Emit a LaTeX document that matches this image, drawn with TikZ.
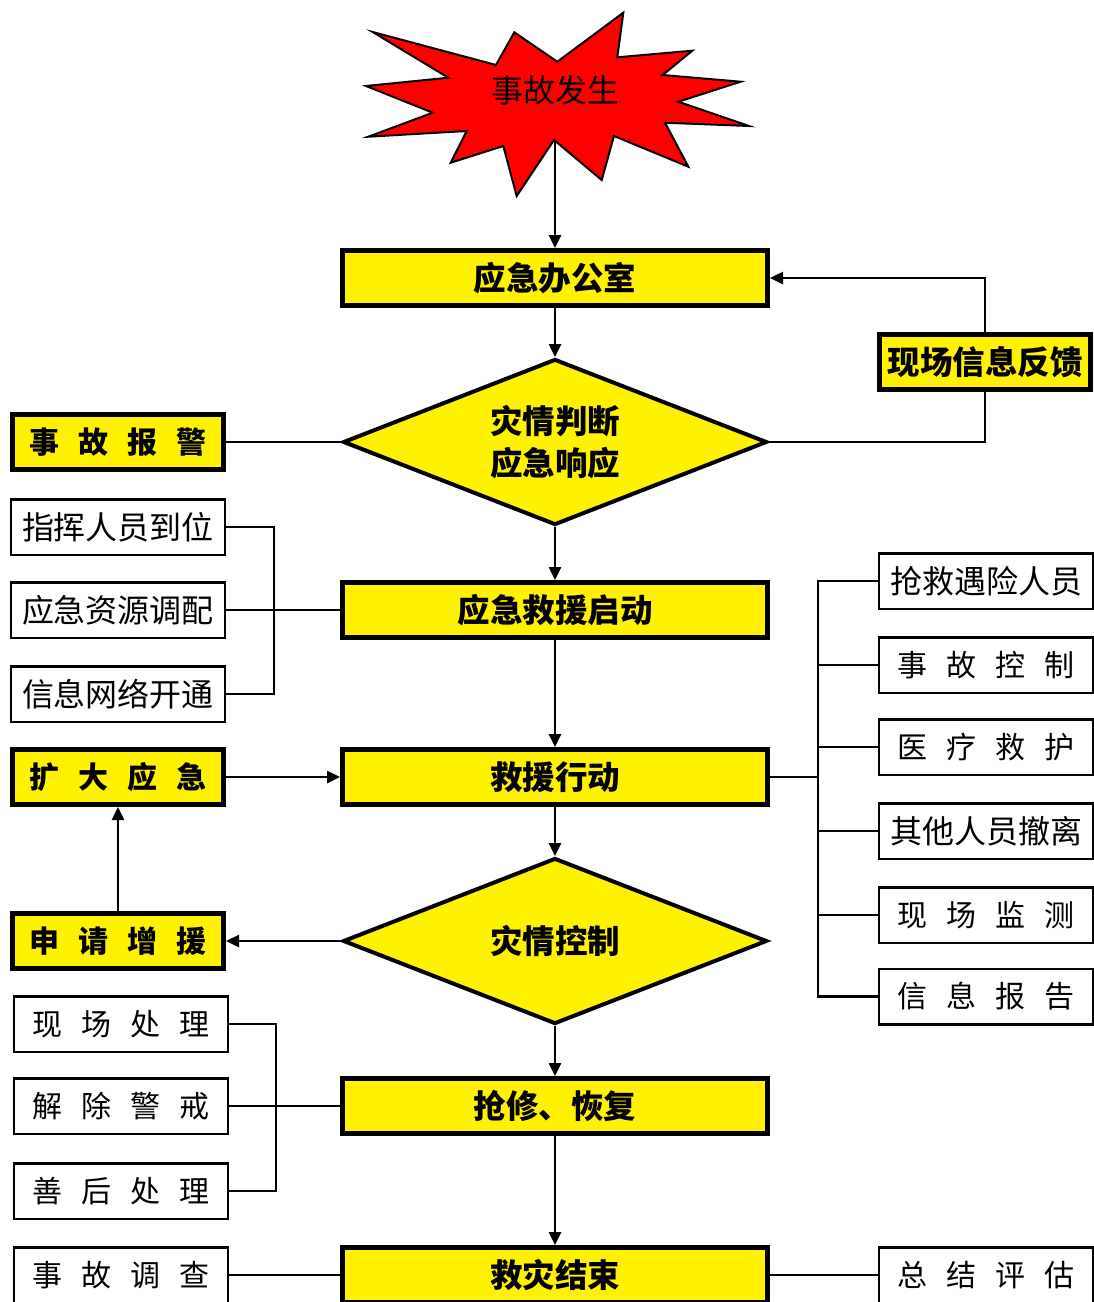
\documentclass[tikz,border=0pt]{standalone}
\usepackage{fontspec}
\setmainfont{Noto Sans CJK SC}
\usetikzlibrary{shapes.geometric,arrows.meta}
\newcommand\zgap{\hspace{19pt}}
\newcommand\ygap{\hspace{19pt}}
\tikzset{
  ybox/.style={draw, line width=5pt, fill=yellow, minimum width=425pt, minimum height=55pt, inner sep=0pt,
    font=\fontsize{32.5}{38}\selectfont\bfseries},
  ysmall/.style={ybox, minimum width=211pt},
  yspaced/.style={ysmall, font=\fontsize{30}{38}\selectfont\bfseries},
  wbox/.style={draw, line width=2.5pt, fill=white, minimum width=214pt, minimum height=55.5pt, inner sep=0pt,
    font=\fontsize{32}{38}\selectfont},
  wspaced/.style={wbox, font=\fontsize{30}{38}\selectfont},
  dia/.style={diamond, draw, line width=4pt, fill=yellow, aspect=2.6, minimum width=424pt, minimum height=166pt,
    inner sep=0pt, align=center, font=\fontsize{32.5}{42}\selectfont\bfseries},
  conn/.style={line width=2.5pt},
  arr/.style={conn, -{Triangle[length=13pt,width=12pt]}},
}
\begin{document}
\begin{tikzpicture}[x=1pt,y=-1pt]
\useasboundingbox (0,0) rectangle (1094,1302);
% star
\draw[line width=2pt, fill=red, line join=miter]
 (372.7,32) -- (496,65) -- (514.3,32.3) -- (557.3,61.7) -- (623.3,12.7) -- (617.3,57.3)
 -- (692.3,50.7) -- (662.7,75) -- (740.7,81.7) -- (678.3,101.7) -- (749,126) -- (665,122.7)
 -- (688.3,166.7) -- (614,136) -- (601.7,180) -- (554,140) -- (516.7,196) -- (503.3,146)
 -- (450.7,162.7) -- (466.7,131) -- (368.3,136.7) -- (432.7,112.7) -- (366,86) -- (448.3,77.7) -- cycle;
\node[font=\fontsize{32}{38}\selectfont] (sg) at (555,90) {事故发生};
\coordinate (st) at (555,140);

% main column
\node[ybox] (off) at (555,278) {应急办公室};
\node[dia] (d1) at (555,442) {灾情判断\\应急响应};
\node[ybox] (qd) at (555,610) {应急救援启动};
\node[ybox] (jy) at (555,777) {救援行动};
\node[dia] (d2) at (555,941) {灾情控制};
\node[ybox] (qx) at (555,1106) {抢修、恢复};
\node[ybox] (js) at (555,1275) {救灾结束};

% right top
\node[ysmall] (fb) at (985,362) {现场信息反馈};

% left
\node[yspaced] (bj) at (118,442) {事\ygap 故\ygap 报\ygap 警};
\node[wbox] (c1) at (118,527) {指挥人员到位};
\node[wbox] (c2) at (118,610) {应急资源调配};
\node[wbox] (c3) at (118,694) {信息网络开通};
\node[yspaced] (kd) at (118,777) {扩\ygap 大\ygap 应\ygap 急};
\node[yspaced] (sq) at (118,941) {申\ygap 请\ygap 增\ygap 援};
\node[wspaced] (b1) at (121,1024) {现\zgap 场\zgap 处\zgap 理};
\node[wspaced] (b2) at (121,1106) {解\zgap 除\zgap 警\zgap 戒};
\node[wspaced] (b3) at (121,1191) {善\zgap 后\zgap 处\zgap 理};
\node[wspaced] (dc) at (121,1275) {事\zgap 故\zgap 调\zgap 查};

% right
\node[wbox] (r1) at (986,581) {抢救遇险人员};
\node[wspaced] (r2) at (986,665) {事\zgap 故\zgap 控\zgap 制};
\node[wspaced] (r3) at (986,747) {医\zgap 疗\zgap 救\zgap 护};
\node[wbox] (r4) at (986,831) {其他人员撤离};
\node[wspaced] (r5) at (986,915) {现\zgap 场\zgap 监\zgap 测};
\node[wspaced] (r6) at (986,996.5) {信\zgap 息\zgap 报\zgap 告};
\node[wspaced] (zj) at (986,1275) {总\zgap 结\zgap 评\zgap 估};

% connectors main
\draw[arr] (st) -- (off.north);
\draw[arr] (off.south) -- (d1.north);
\draw[arr] (d1.south) -- (qd.north);
\draw[arr] (qd.south) -- (jy.north);
\draw[arr] (jy.south) -- (d2.north);
\draw[arr] (d2.south) -- (qx.north);
\draw[arr] (qx.south) -- (js.north);

% feedback loop
\draw[conn] (d1.east) -| (fb.south);
\draw[arr] (fb.north) |- (off.east);

% left connectors
\draw[conn] (bj.east) -- (d1.west);
\coordinate (bl1) at (274,610);
\draw[conn] (c1.east) -| (bl1) |- (c3.east);
\draw[conn] (c2.east) -- (qd.west);
\draw[arr] (kd.east) -- (jy.west);
\draw[arr] (sq.north) -- (kd.south);
\draw[arr] (d2.west) -- (sq.east);
\coordinate (bl2) at (276,1106);
\draw[conn] (b1.east) -| (bl2) |- (b3.east);
\draw[conn] (b2.east) -- (qx.west);
\draw[conn] (dc.east) -- (js.west);

% right bracket
\coordinate (br) at (818,777);
\draw[conn] (jy.east) -- (br);
\draw[conn] (r1.west) -| (br) |- (r6.west);
\draw[conn] (r2.west) -- (r2.west -| br);
\draw[conn] (r3.west) -- (r3.west -| br);
\draw[conn] (r4.west) -- (r4.west -| br);
\draw[conn] (r5.west) -- (r5.west -| br);
\draw[conn] (js.east) -- (zj.west);
\end{tikzpicture}
\end{document}
